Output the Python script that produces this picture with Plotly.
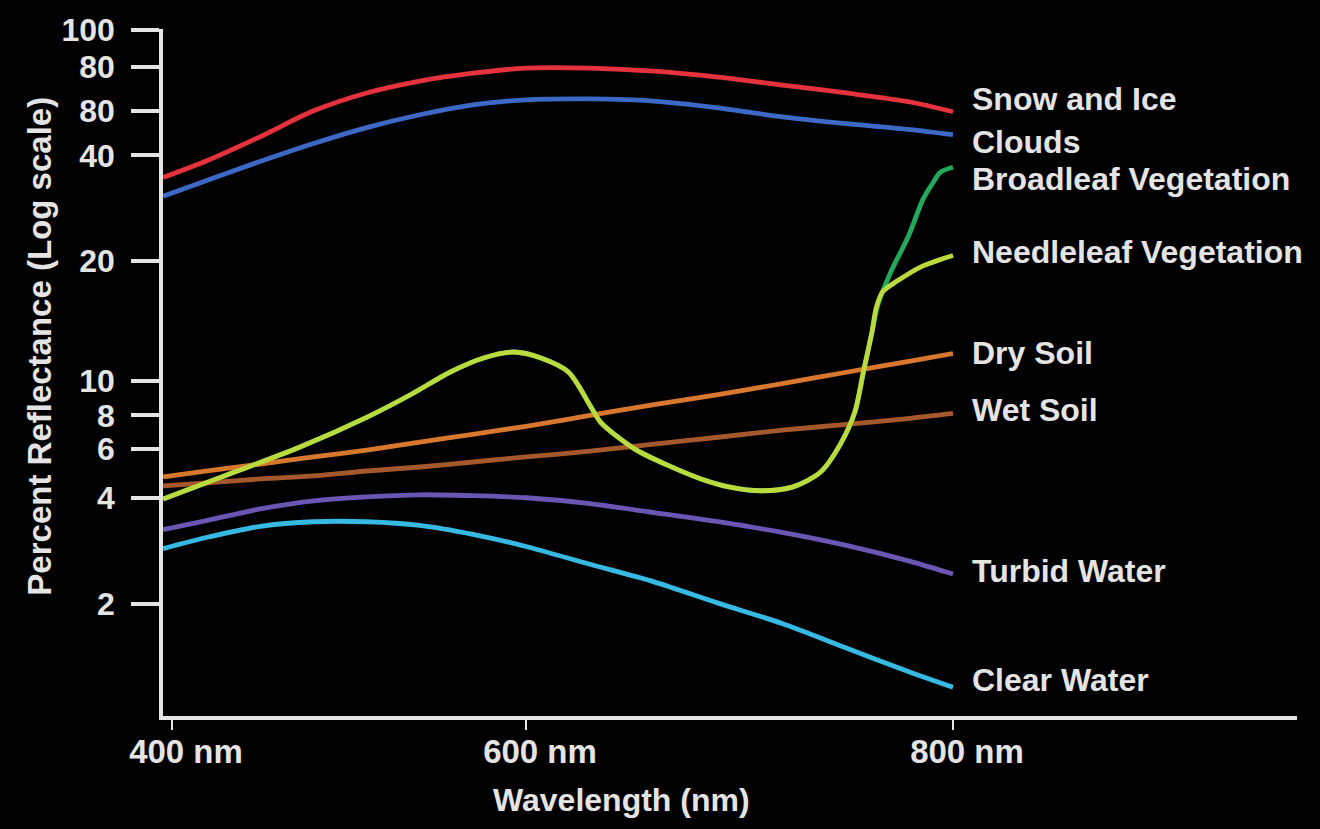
import numpy as np
import plotly.graph_objects as go

# ---------------- data ----------------
WAVELENGTH_NM = [395, 420, 450, 480, 510, 540, 570, 600, 630, 660, 690, 720, 750, 780, 800]
SNOW_ICE = [34.6, 38.7, 47.5, 60.0, 67.5, 73.0, 76.9, 79.5, 79.5, 77.9, 74.9, 71.1, 67.5, 63.6, 59.5]
CLOUDS = [30.6, 34.0, 38.5, 44.6, 51.5, 57.9, 62.4, 64.5, 64.9, 64.0, 61.2, 56.8, 53.4, 50.6, 48.3]
DRY_SOIL = [4.76, 5.00, 5.30, 5.62, 5.95, 6.37, 6.81, 7.29, 8.00, 8.58, 9.15, 9.81, 10.5, 11.2, 11.7]
WET_SOIL = [4.42, 4.53, 4.68, 4.80, 5.00, 5.17, 5.39, 5.62, 5.90, 6.26, 6.64, 7.05, 7.41, 7.80, 8.10]
TURBID_WATER = [3.25, 3.45, 3.72, 3.92, 4.03, 4.10, 4.07, 4.00, 3.85, 3.63, 3.42, 3.19, 2.93, 2.64, 2.43]
CLEAR_WATER = [2.87, 3.09, 3.32, 3.42, 3.42, 3.34, 3.15, 2.91, 2.59, 2.31, 2.01, 1.76, 1.50, 1.28, 1.16]

NEEDLE_NM = [395, 431, 472, 510, 535, 557, 576, 593, 607, 620, 630, 635, 651, 666, 682, 695,
             710, 725, 738, 747, 754, 758, 762, 764, 767, 774, 785, 800]
NEEDLELEAF = [3.97, 4.84, 6.10, 7.87, 9.15, 10.5, 11.4, 11.8, 11.4, 10.5, 8.53, 7.54, 6.00, 5.26,
              4.68, 4.38, 4.24, 4.38, 4.96, 6.21, 8.16, 10.5, 13.2, 15.2, 16.7, 17.8, 19.3, 20.7]

BROAD_NM = [395, 431, 472, 510, 535, 557, 576, 593, 607, 620, 630, 635, 651, 666, 682, 695,
            710, 725, 738, 747, 754, 758, 762, 765, 771, 779, 786, 791, 794, 800]
BROADLEAF = [3.97, 4.84, 6.10, 7.87, 9.15, 10.5, 11.4, 11.8, 11.4, 10.5, 8.53, 7.54, 6.00, 5.26,
             4.68, 4.38, 4.24, 4.38, 4.96, 6.21, 8.16, 10.5, 13.2, 15.6, 18.8, 23.4, 30.0, 33.7, 35.8, 37.0]

SERIES_NAMES = ["Snow and Ice", "Clouds", "Broadleaf Vegetation", "Needleleaf Vegetation",
                "Dry Soil", "Wet Soil", "Turbid Water", "Clear Water"]

# tick labels (as printed in the original, including its duplicated "80")
Y_TICK_VALUES = [100, 80, 60, 40, 20, 10, 8, 6, 4, 2]
Y_TICK_TEXT = ["100", "80", "80", "40", "20", "10", "8", "6", "4", "2"]
X_TICK_VALUES = [400, 600, 800]
X_TICK_TEXT = ["400 nm", "600 nm", "800 nm"]

# ---------------- the chart's own (hand-drawn, non-uniform) scales ----------------
Y_ANCHOR_VAL = [1, 2, 4, 6, 8, 10, 20, 40, 60, 80, 100]
Y_ANCHOR_POS = [6, 113, 220, 269, 303, 338, 459, 565, 610, 654, 692]
X_ANCHOR_NM = [380, 400, 600, 800]
X_ANCHOR_POS = [-26.3, 9, 363, 790]


def ypos(v):
    return np.interp(np.log10(np.asarray(v, float)), np.log10(Y_ANCHOR_VAL), Y_ANCHOR_POS)


def xpos(nm):
    return np.interp(np.asarray(nm, float), X_ANCHOR_NM, X_ANCHOR_POS)


TEXT = "#e4e4e4"
FONT = "Liberation Sans"

series = [
    (BROAD_NM, BROADLEAF, "#23a95c"),
    (WAVELENGTH_NM, SNOW_ICE, "#e5323d"),
    (WAVELENGTH_NM, CLOUDS, "#3c68c6"),
    (WAVELENGTH_NM, DRY_SOIL, "#d8782e"),
    (WAVELENGTH_NM, WET_SOIL, "#a4582c"),
    (WAVELENGTH_NM, TURBID_WATER, "#6b56b3"),
    (WAVELENGTH_NM, CLEAR_WATER, "#36b9e2"),
    (NEEDLE_NM, NEEDLELEAF, "#bada3e"),
]
names_in_order = ["Broadleaf Vegetation", "Snow and Ice", "Clouds", "Dry Soil", "Wet Soil",
                  "Turbid Water", "Clear Water", "Needleleaf Vegetation"]

fig = go.Figure()
for (xs, ys, col), nm in zip(series, names_in_order):
    fig.add_trace(go.Scatter(
        x=xpos(xs), y=ypos(ys), mode="lines", name=nm,
        line=dict(color=col, width=4.8, shape="spline", smoothing=0.8),
        hoverinfo="skip", showlegend=False,
    ))

# series labels on the right
LABEL_Y = [622, 579, 541, 468, 366, 308, 146, 36]
for name, ly in zip(SERIES_NAMES, LABEL_Y):
    fig.add_annotation(x=807, y=ly, xref="x", yref="y", text=name, showarrow=False,
                       xanchor="left", yanchor="middle",
                       font=dict(family=FONT, size=32, color=TEXT, weight="bold"))

# axis titles
fig.add_annotation(x=-0.1085, y=0.539, xref="paper", yref="paper",
                   text="Percent Reflectance (Log scale)", textangle=-90, showarrow=False,
                   xanchor="center", yanchor="middle",
                   font=dict(family=FONT, size=33, color=TEXT, weight="bold"))
fig.add_annotation(x=0.4039, y=-0.1228, xref="paper", yref="paper",
                   text="Wavelength (nm)", showarrow=False, xanchor="center", yanchor="middle",
                   font=dict(family=FONT, size=32, color=TEXT, weight="bold"))

fig.update_layout(
    width=1320, height=829,
    paper_bgcolor="black", plot_bgcolor="black",
    margin=dict(l=163, r=23, t=24, b=113),
    showlegend=False,
    xaxis=dict(range=[0, 1134], showgrid=False, zeroline=False,
               showline=True, linecolor=TEXT, linewidth=3.5,
               ticks="outside", ticklen=10, tickwidth=2, tickcolor=TEXT,
               tickvals=list(xpos(X_TICK_VALUES)), ticktext=X_TICK_TEXT,
               ticklabelshift=14, ticklabelstandoff=-6,
               tickfont=dict(family=FONT, size=33, color=TEXT, weight="bold")),
    yaxis=dict(range=[0, 692.5], showgrid=False, zeroline=False,
               showline=True, linecolor=TEXT, linewidth=3.5,
               ticks="outside", ticklen=28, tickwidth=3.5, tickcolor=TEXT,
               tickvals=list(ypos(Y_TICK_VALUES)), ticktext=Y_TICK_TEXT,
               ticklabelstandoff=10,
               tickfont=dict(family=FONT, size=32, color=TEXT, weight="bold")),
)

fig.write_html("out.html", config={"displayModeBar": False},
               post_script="document.body.style.margin='0';document.body.style.background='black';")
